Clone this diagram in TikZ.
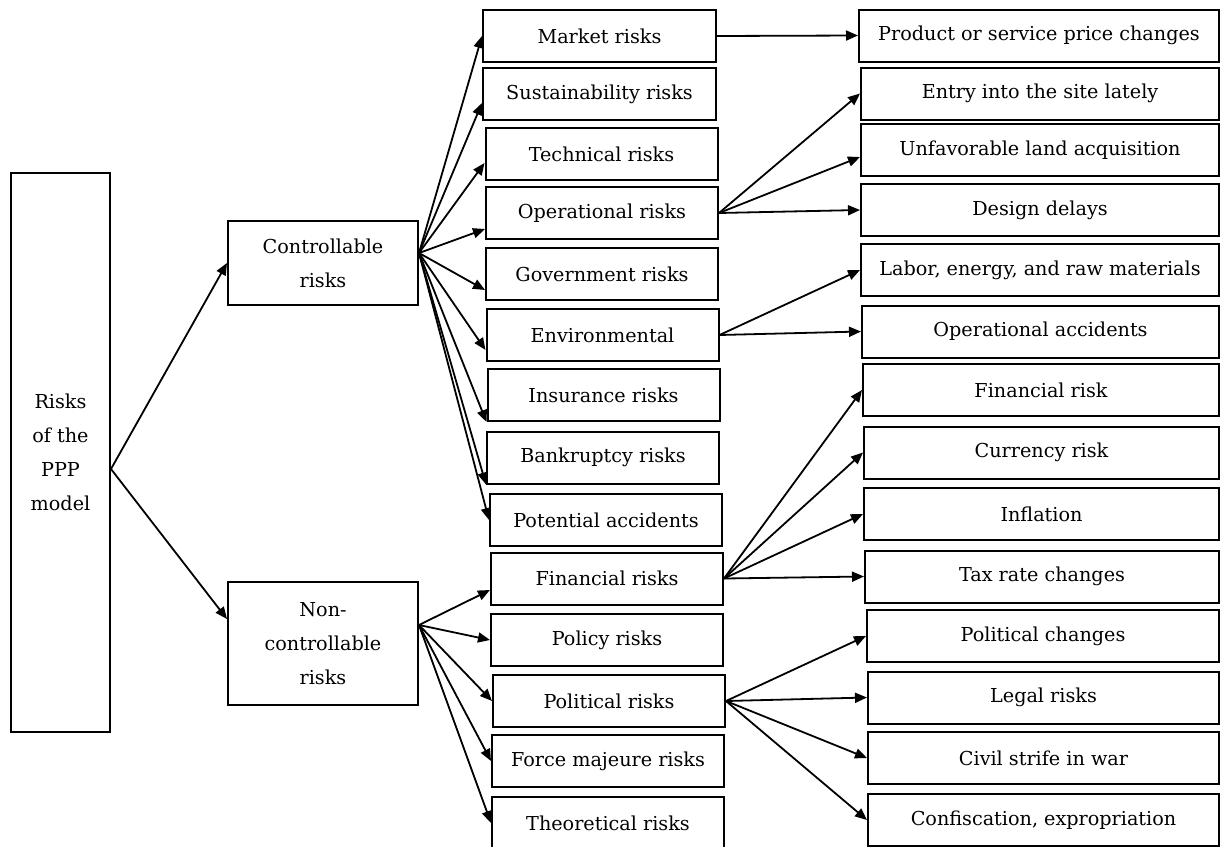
\documentclass[tikz,border=0pt]{standalone}
\usepackage{fontspec}
\setmainfont{DejaVu Serif}
\usepackage{tikz}
\usetikzlibrary{arrows.meta}

\begin{document}
\begin{tikzpicture}[x=1pt,y=-1pt]
    \useasboundingbox (0,0) rectangle (1220,846);
    \begin{scope}[every node/.style={draw=black,line width=2pt,rectangle,inner sep=0pt,
                  align=center,minimum height=52pt,font=\fontsize{19.2}{34}\selectfont}]
        % root and the two groups
        \node[minimum width=99pt,minimum height=559pt] (root) at (60.5,452.5) {Risks\\of the\\PPP\\model};
        \node[minimum width=190pt,minimum height=84pt] (ctrl) at (323,263) {Controllable\\risks};
        \node[minimum width=190pt,minimum height=123pt] (nonctrl) at (323,643.5) {Non-\\controllable\\risks};

        % middle column
        \node[minimum width=233pt] (market) at (599.5,36) {Market risks};
        \node[minimum width=233pt] (sustain) at (599.5,94) {Sustainability risks};
        \node[minimum width=232pt] (tech) at (601.5,154) {Technical risks};
        \node[minimum width=232pt] (oper) at (602,213) {Operational risks};
        \node[minimum width=232pt] (gov) at (602,274) {Government risks};
        \node[minimum width=232pt] (env) at (602.5,335) {Environmental};
        \node[minimum width=232pt] (insur) at (603.5,395) {Insurance risks};
        \node[minimum width=232pt] (bankr) at (603,457.5) {Bankruptcy risks};
        \node[minimum width=232pt] (potent) at (606,520) {Potential accidents};
        \node[minimum width=232pt] (fin) at (607,578.5) {Financial risks};
        \node[minimum width=232pt] (policy) at (607,640) {Policy risks};
        \node[minimum width=232pt] (polit) at (609,701) {Political risks};
        \node[minimum width=232pt] (force) at (608,761) {Force majeure risks};
        \node[minimum width=232pt] (theor) at (608,823) {Theoretical risks};

        % right column
        \node[anchor=west,minimum width=360pt] (price) at (858,35.5) {Product or service price changes};
        \node[anchor=west,minimum width=358pt] (entry) at (860,93.5) {Entry into the site lately};
        \node[anchor=west,minimum width=358pt] (land) at (860,150) {Unfavorable land acquisition};
        \node[anchor=west,minimum width=358pt] (design) at (860,210) {Design delays};
        \node[anchor=west,minimum width=358pt] (labor) at (860,270) {Labor, energy, and raw materials};
        \node[anchor=west,minimum width=357pt] (opacc) at (861,331.5) {Operational accidents};
        \node[anchor=west,minimum width=356pt] (finrisk) at (862,390) {Financial risk};
        \node[anchor=west,minimum width=355pt] (currency) at (863,452.5) {Currency risk};
        \node[anchor=west,minimum width=355pt] (inflation) at (863,514) {Inflation};
        \node[anchor=west,minimum width=354pt] (tax) at (864,576.5) {Tax rate changes};
        \node[anchor=west,minimum width=352pt] (polchange) at (866,636) {Political changes};
        \node[anchor=west,minimum width=351pt] (legal) at (867,697.5) {Legal risks};
        \node[anchor=west,minimum width=351pt] (civil) at (867,758) {Civil strife in war};
        \node[anchor=west,minimum width=351pt] (confisc) at (867,820) {Confiscation, expropriation};
    \end{scope}

    \begin{scope}[>={Triangle[length=12pt,width=10pt]},
                  every edge/.style={draw=black,line width=1.8pt}]
        \path [->] ([yshift=-16.5pt]root.east) edge (ctrl.west);
        \path [->] ([yshift=-16.5pt]root.east) edge ([yshift=24.5pt]nonctrl.west);

        \path [->] ([yshift=10pt]ctrl.east) edge (market.west);
        \path [->] ([yshift=10pt]ctrl.east) edge ([yshift=-9pt]sustain.west);
        \path [->] ([yshift=10pt]ctrl.east) edge ([yshift=-9pt]tech.west);
        \path [->] ([yshift=10pt]ctrl.east) edge ([yshift=-16pt]oper.west);
        \path [->] ([yshift=10pt]ctrl.east) edge ([yshift=-16pt]gov.west);
        \path [->] ([yshift=10pt]ctrl.east) edge ([yshift=-15pt]env.west);
        \path [->] ([yshift=10pt]ctrl.east) edge (insur.south west);
        \path [->] ([yshift=10pt]ctrl.east) edge (bankr.south west);
        \path [->] ([yshift=10pt]ctrl.east) edge (potent.west);

        \path [->] ([yshift=18.5pt]nonctrl.east) edge ([yshift=-11.5pt]fin.west);
        \path [->] ([yshift=18.5pt]nonctrl.east) edge (policy.west);
        \path [->] ([yshift=18.5pt]nonctrl.east) edge (polit.west);
        \path [->] ([yshift=18.5pt]nonctrl.east) edge (force.west);
        \path [->] ([yshift=18.5pt]nonctrl.east) edge (theor.west);

        \path [->] (market.east) edge (price.west);

        \path [->] (oper.east) edge (entry.west);
        \path [->] (oper.east) edge ([yshift=-7pt]land.west);
        \path [->] (oper.east) edge (design.west);

        \path [->] (env.east) edge (labor.west);
        \path [->] (env.east) edge (opacc.west);

        \path [->] (fin.east) edge (finrisk.west);
        \path [->] (fin.east) edge (currency.west);
        \path [->] (fin.east) edge (inflation.west);
        \path [->] (fin.east) edge (tax.west);

        \path [->] (polit.east) edge (polchange.west);
        \path [->] (polit.east) edge (legal.west);
        \path [->] (polit.east) edge (civil.west);
        \path [->] (polit.east) edge (confisc.west);
    \end{scope}
\end{tikzpicture}
\end{document}
